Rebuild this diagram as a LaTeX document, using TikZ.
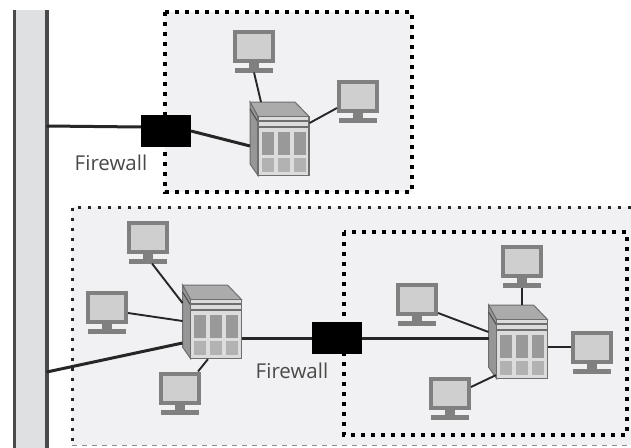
\documentclass[tikz,border=0pt]{standalone}
\usepackage{fontspec}
\setsansfont{Open Sans}

\definecolor{zonefill}{HTML}{F1F1F3}
\definecolor{busfill}{HTML}{DFE0E2}
\definecolor{busedge}{HTML}{4A4A4A}
\definecolor{pcedge}{HTML}{808080}
\definecolor{pcfill}{HTML}{CFCFCF}
\definecolor{srvedge}{HTML}{6E6E6E}
\definecolor{srvroof}{HTML}{ABABAB}
\definecolor{srvside}{HTML}{969696}
\definecolor{srvfront}{HTML}{DCDCDC}
\definecolor{srvbay}{HTML}{999999}
\definecolor{srvslot}{HTML}{B2B2B2}
\definecolor{labelgray}{HTML}{4A4A4A}

\tikzset{
	zone/.style={fill=zonefill, draw=black, line width=3.8, dash pattern=on 3.8 off 6.2},
	screen/.style={draw=pcedge, fill=pcfill, line width=4, inner sep=0, minimum width=38, minimum height=29},
	stand/.style={fill=pcedge, inner sep=0, outer sep=0},
	hook/.style={inner sep=0, outer sep=0},
	firewall/.style={fill=black, inner sep=0, outer sep=0, minimum width=50, minimum height=32},
	thinlink/.style={line width=1.9, draw=black!85},
	thicklink/.style={line width=3, draw=black!85},
	caption/.style={font=\sffamily\fontsize{20.5}{22}\selectfont, text=labelgray, inner sep=0},
	monitor/.pic={
		\node [screen] (-screen) at ( 0, 0 ) {};
		\node [stand, minimum width=10, minimum height=6] (-neck) at ( 0, 19 ) {};
		\node [stand, minimum width=38, minimum height=5] (-foot) at ( 0, 24 ) {};
	},
	server/.pic={
		% крыша и бок
		\draw [draw=srvedge, fill=srvroof, line width=1] ( -33.5, -44 ) -- ( 11.5, -44 ) -- ( 25.5, -29.5 ) -- ( -25.5, -29.5 ) -- cycle;
		\draw [draw=srvedge, fill=srvside, line width=1] ( -33.5, -44 ) -- ( -25.5, -29.5 ) -- ( -25.5, 29.5 ) -- ( -33.5, 18 ) -- cycle;
		\draw [draw=black!70, line width=1] ( -33.5, -37 ) -- ( -25.5, -24 );
		% передняя панель
		\node [draw=srvedge, fill=srvfront, line width=1.2, inner sep=0, minimum width=51, minimum height=59] (-front) at ( 0, 0 ) {};
		\draw [draw=srvedge, line width=1.2] ( -25.5, -25 ) -- ( 25.5, -25 );
		\draw [draw=srvedge, line width=1.2] ( -25.5, -19 ) -- ( 25.5, -19 );
		% отсеки
		\fill [srvbay] ( -22, -14 ) rectangle ( -10, 9 );
		\fill [srvbay] ( -6, -14 ) rectangle ( 6, 9 );
		\fill [srvbay] ( 10, -14 ) rectangle ( 22, 9 );
		\fill [srvslot] ( -22, 12 ) rectangle ( -10, 26 );
		\fill [srvslot] ( -6, 12 ) rectangle ( 6, 26 );
		\fill [srvslot] ( 10, 12 ) rectangle ( 22, 26 );
		% точки подключения
		\node [hook, minimum width=8, minimum height=74] (-side) at ( -29.5, -7 ) {};
		\node [hook, minimum width=50, minimum height=14] (-roof) at ( -5, -37 ) {};
	}
}

\begin{document}
\begin{tikzpicture}[x=1pt, y=-1pt]
	\useasboundingbox ( 0, 0 ) rectangle ( 631, 447 );

	% зоны
	\fill [zonefill] ( 72, 207 ) rectangle ( 631, 445 );
	\draw [line width=3, dash pattern=on 3 off 7, draw=black!85] ( 631, 207 ) -- ( 72, 207 ) -- ( 72, 445 );
	\draw [line width=1, dash pattern=on 5 off 5, draw=black!45] ( 72, 445 ) -- ( 631, 445 );
	\draw [zone] ( 165, 12 ) rectangle ( 412, 192 );
	\draw [zone] ( 344, 232 ) rectangle ( 627, 435 );

	% магистраль
	\node [fill=busfill, inner sep=0, outer sep=0, minimum width=32.5, minimum height=438] (bus) at ( 30.5, 229 ) {};
	\draw [draw=busedge, line width=3.5] (bus.north west) -- (bus.south west);
	\draw [draw=busedge, line width=3.5] (bus.north east) -- (bus.south east);

	% верхняя подсеть
	\node [firewall] (fwTop) at ( 166, 131 ) {};
	\node [caption] (capTop) at ( 111, 163 ) {Firewall};
	\pic (srvTop) at ( 283.5, 146 ) {server};
	\pic (pcTopA) at ( 254, 46 ) {monitor};
	\pic (pcTopB) at ( 358, 96.5 ) {monitor};

	% нижняя подсеть
	\pic (srvLow) at ( 216, 329 ) {server};
	\pic (pcLowA) at ( 148, 237 ) {monitor};
	\pic (pcLowB) at ( 107, 307 ) {monitor};
	\pic (pcLowC) at ( 180, 388 ) {monitor};
	\node [firewall] (fwLow) at ( 337, 338 ) {};
	\node [caption] (capLow) at ( 292, 371 ) {Firewall};

	% внутренняя подсеть
	\pic (srvIn) at ( 522, 349 ) {server};
	\pic (pcInA) at ( 417, 299 ) {monitor};
	\pic (pcInB) at ( 522, 261 ) {monitor};
	\pic (pcInC) at ( 592, 347 ) {monitor};
	\pic (pcInD) at ( 450, 393 ) {monitor};

	% связи верхней подсети
	\draw [thicklink] ([yshift=103]bus.east) -- ([yshift=4]fwTop.west);
	\draw [thicklink] (fwTop.east) -- ([yshift=-7]srvTop-side.west);
	\draw [thinlink] (pcTopA-foot.south) -- ([xshift=-17.5]srvTop-roof.north);
	\draw [thinlink] ([yshift=-11.5]pcTopB-screen.west) -- ([yshift=23]srvTop-front.east);

	% связи нижней подсети
	\draw [thicklink] ([yshift=-143]bus.east) -- ([yshift=-21]srvLow-side.west);
	\draw [thinlink] ([xshift=4]pcLowA-foot.south) -- ([yshift=19]srvLow-side.west);
	\draw [thinlink] ([yshift=-6]pcLowB-screen.east) -- ([yshift=1]srvLow-side.west);
	\draw [thinlink] ([xshift=18]pcLowC-screen.north) -- ([xshift=-8]srvLow-front.south);
	\draw [thicklink] ([yshift=-9]srvLow-front.east) -- (fwLow.west);

	% связи внутренней подсети
	\draw [thicklink] (fwLow.east) -- ([yshift=4]srvIn-side.west);
	\draw [thinlink] ([yshift=-14]pcInA-screen.east) -- ([yshift=10]srvIn-side.west);
	\draw [thinlink] (pcInB-foot.south) -- ([xshift=5]srvIn-roof.north);
	\draw [thinlink] (pcInC-screen.west) -- ([yshift=2]srvIn-front.east);
	\draw [thinlink] ([yshift=6]pcInD-screen.east) -- ([yshift=4]srvIn-front.south west);
\end{tikzpicture}
\end{document}
